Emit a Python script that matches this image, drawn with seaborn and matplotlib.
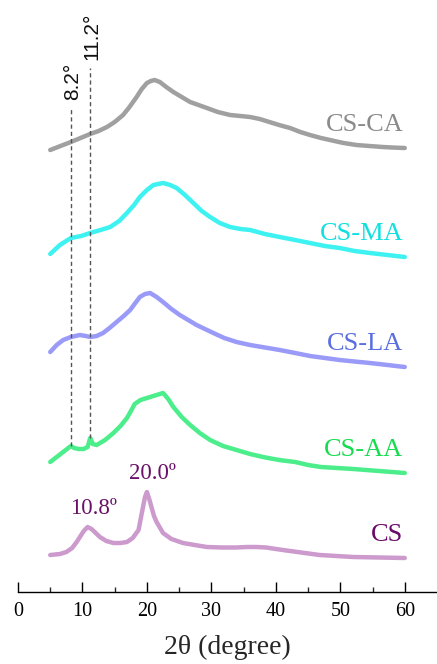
import numpy as np
import pandas as pd
import seaborn as sns
import matplotlib.pyplot as plt

# XRD patterns (intensity in a.u., stacked with offsets)
samples = ["CS-CA", "CS-MA", "CS-LA", "CS-AA", "CS"]

theta_ca = [5, 6.6, 8.2, 9.7, 11.2, 12.5, 13.8, 15, 16.3, 17.3, 18.4, 19.2, 20,
            20.6, 21.2, 22, 23, 24.1, 25.4, 26.7, 28, 29.3, 31, 32.9, 34.5,
            36, 37.5, 39, 40.5, 42.2, 43.8, 45.3, 47, 48.4, 50.5, 52.5, 54.5,
            56.6, 58, 60]
int_ca = [442, 446, 450, 454, 458, 461, 465, 470, 477, 485, 495, 503, 509,
          511, 512, 510, 505, 500, 495, 490, 487, 484, 480, 477, 476,
          475, 473, 470, 467, 464, 460, 457, 454, 452, 449, 447, 446,
          445, 444.5, 444]

theta_ma = [5, 6.5, 8.2, 9.8, 11.2, 12.8, 14.3, 15.7, 16.9, 18, 18.9, 20, 21,
            22.5, 23.6, 24.6, 25.9, 27.2, 28.5, 29.8, 31.3, 32.9, 34.5, 36,
            38.3, 40.6, 43, 45.3, 47.6, 49.9, 52.2, 54.6, 57.3, 60]
int_ma = [338, 347, 354, 356, 359, 362, 365, 371, 379, 387, 395, 402, 407,
          409, 407, 404, 397, 389, 381, 375, 369, 365, 363, 362,
          358, 355, 352, 349, 346, 344, 341, 339, 337, 335]

theta_la = [5, 6, 7, 8.2, 9.6, 10.5, 11.2, 12.2, 13.2, 14.2, 15.3, 16.4, 17.4,
            18.2, 18.9, 19.7, 20.5, 21.5, 22.5, 23.8, 25.1, 26.4, 27.7, 29,
            30.3, 32, 33.9, 36, 38.3, 40.6, 43, 45.3, 47.6, 49.9, 52.2, 54.6,
            57.3, 60]
int_la = [240, 247, 252, 255, 257, 256, 255, 256, 259, 264, 270, 276, 282,
          289, 295, 298, 299, 295, 290, 283, 277, 272, 267, 263,
          259, 254, 250, 247, 244.5, 242, 239, 236, 234, 232, 230.5, 229,
          227, 225]

theta_aa = [5, 6, 7, 7.8, 8.2, 8.7, 9.4, 10.2, 10.8, 11.2, 11.6, 12.2, 13.5,
            14.8, 15.9, 16.9, 17.6, 18.1, 19, 20.5, 21.5, 22.5, 23.3, 24.1,
            25.4, 26.7, 28.2, 29.8, 31.8, 33.9, 36, 38, 40.5, 43, 45, 47,
            49.5, 52, 56, 60]
int_aa = [130, 135, 140, 144, 146, 144, 143, 143, 145, 154, 148, 147, 152,
          159, 166, 174, 182, 188, 192, 195, 197, 199, 193, 185,
          175, 167, 159, 152, 146, 142, 138, 135, 132, 130, 127, 125,
          124, 123, 121, 119]

theta_cs = [5, 6.5, 7.5, 8.4, 9.1, 9.6, 10.2, 10.8, 11.4, 11.9, 12.7, 13.7,
            14.8, 15.9, 16.9, 17.8, 18.7, 19.3, 19.7, 20, 20.4, 20.7, 21.1,
            21.5, 22.5, 23.8, 25.6, 27.4, 29.3, 31.6, 33.9, 35.5, 37, 38.5,
            40, 42.2, 44.5, 46.8, 49.4, 52, 56, 60]
int_cs = [37, 38, 40, 44, 50, 55, 61, 65, 63, 60, 55, 51,
          49, 49, 50, 54, 62, 82, 95, 100, 92, 85, 76,
          70, 59, 53, 49, 47, 45, 44.5, 44.5, 45, 45, 44.5,
          43, 41, 39, 37, 36, 35, 34.5, 34]

line_colors = ["#a0a0a0", "#3ff2f2", "#9a9af8", "#4cee8c", "#cc9acc"]
label_colors = ["#8a8a8a", "#10e0e0", "#5a6ee0", "#18dc50", "#6a0a6a"]

peaks_cs = [10.8, 20.0]
peak_labels = ["10.8\u00ba", "20.0\u00ba"]
ref_angles = [8.2, 11.2]
ref_labels = ["8.2\u00b0", "11.2\u00b0"]
ref_tops = [484, 524]

thetas = [theta_ca, theta_ma, theta_la, theta_aa, theta_cs]
ints = [int_ca, int_ma, int_la, int_aa, int_cs]
df = pd.concat([pd.DataFrame({"theta": t, "I": i, "sample": s})
                for t, i, s in zip(thetas, ints, samples)], ignore_index=True)

sns.set_style("ticks")
fig = plt.figure(figsize=(4.37, 6.64), dpi=100)
ax = fig.add_axes([18/437, 72/664, 419/437, 592/664])

sns.lineplot(data=df, x="theta", y="I", hue="sample", hue_order=samples,
             palette=dict(zip(samples, line_colors)), linewidth=3.2,
             legend=False, ax=ax, estimator=None, sort=True)

# reference lines at the small acid peaks
for ang, lab, top in zip(ref_angles, ref_labels, ref_tops):
    bottom = np.interp(ang, theta_aa, int_aa)
    ax.plot([ang, ang], [bottom, top], color="#555555", lw=1.0,
            ls=(0, (3, 2.2)))
    ax.text(ang + 0.3, top + 8, lab, rotation=90, ha="center", va="bottom",
            fontsize=15, family="Liberation Sans", color="#111111")

# sample labels at the right end
for t, i, s, c in zip(thetas, ints, samples, label_colors):
    ax.text(59.8, i[-1] + 12, s, ha="right", va="bottom", fontsize=19,
            family="Liberation Serif", color=c)

# CS peak positions
for p, lab in zip(peaks_cs, peak_labels):
    h = np.interp(p, theta_cs, int_cs)
    ax.text(p + 0.9, h + 8, lab, ha="center", va="bottom", fontsize=16.5,
            family="Liberation Serif", color="#6a106a")

ax.set_xlim(0, 65)
ax.set_ylim(0, 592)
ax.set_xticks(range(0, 61, 10))
ax.set_xticks(range(5, 60, 10), minor=True)
ax.tick_params(axis="x", which="major", direction="in", length=7, width=1,
               pad=7, labelsize=14.5, colors="black")
ax.tick_params(axis="x", which="minor", direction="in", length=3.5, width=1)
for lbl in ax.get_xticklabels():
    lbl.set_family("Liberation Serif")
ax.set_yticks([])
ax.set_ylabel("")
ax.set_xlabel("2\u03b8 (degree)", fontsize=20, family="Liberation Serif",
              labelpad=10)
for side in ["left", "right", "top"]:
    ax.spines[side].set_visible(False)
ax.spines["bottom"].set_linewidth(1.0)
ax.spines["bottom"].set_color("black")

fig.savefig("out.png", dpi=100)
